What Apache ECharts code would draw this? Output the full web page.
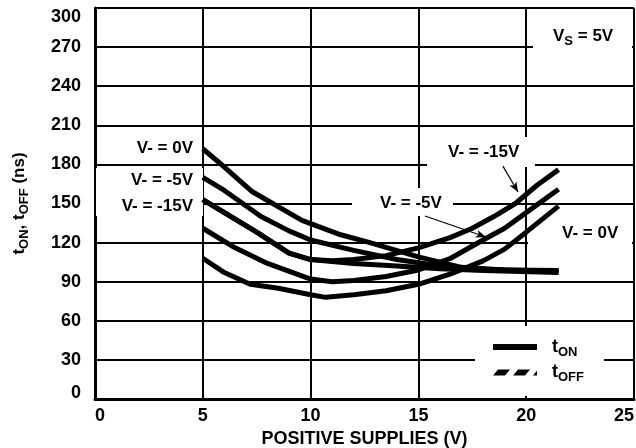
<!DOCTYPE html>
<html>
<head>
<meta charset="utf-8">
<script src="https://cdn.jsdelivr.net/npm/echarts@6/dist/echarts.min.js"></script>
<style>
  html, body { margin: 0; padding: 0; background: #fff; }
  #chart { width: 636px; height: 448px; }
</style>
</head>
<body>
<div id="chart"></div>
<script>
  // positive supply (V) vs switching time (ns)
  const onNeg0X = [5, 6, 7.3, 9.6, 11.4, 12.75, 15, 17, 19, 21.5]
  const onNeg0Y = [192, 178, 159, 137, 126, 120, 109, 101, 99, 98.5]
  const onNeg5X = [5, 6, 7.7, 9, 10, 12, 14, 16, 18, 21.5]
  const onNeg5Y = [170, 160, 140, 129, 122, 114, 107, 102, 99.5, 98]
  const onNeg15X = [5, 6, 7.5, 9, 10, 12, 14, 16, 18, 21.5]
  const onNeg15Y = [153, 143, 128, 112, 107, 104, 102, 100, 98.5, 97]

  const offNeg15X = [5, 6, 7.5, 9, 10, 11, 12, 13.5, 15, 16.5, 17.5, 18.5, 19.5, 20.5, 21.5]
  const offNeg15Y = [153, 143, 128, 112, 107, 106, 107, 110, 116, 124, 131, 140, 150, 164, 176]
  const offNeg5X = [5, 6.5, 8, 10, 11, 12, 13.5, 15, 16.5, 18, 19, 20, 21.5]
  const offNeg5Y = [131, 116, 104, 92, 90, 91, 94, 99, 108, 122, 131, 143, 161]
  const offNeg0X = [5, 6, 7.2, 8.5, 10, 10.7, 12, 13.5, 15, 16.5, 18, 19, 20, 21.5]
  const offNeg0Y = [108, 97, 88, 85, 80, 78, 80, 83, 88, 96, 106, 115, 128, 148]

  const xTicks = [0, 25, 5]     // min, max, step
  const yTicks = [0, 300, 30]

  const FONT = 'Liberation Sans, Arial, Helvetica, sans-serif'
  const zip = (xs, ys) => xs.map((x, i) => [x, ys[i]])

  const txt = (size) => ({ fontFamily: FONT, fontWeight: 'bold', fontSize: size, color: '#000' })

  const lineBase = {
    type: 'line',
    symbol: 'none',
    smooth: false,
    z: 3,
    lineStyle: { color: '#000', width: 5 },
    itemStyle: { color: '#000' },
  }

  const makeLine = (name, xs, ys, extra) => Object.assign({}, lineBase, { name, data: zip(xs, ys) }, extra || {})

  const chart = echarts.init(document.getElementById('chart'))

  const whiteBox = (x, y, w, h) => ({
    type: 'rect',
    z: 1,
    silent: true,
    shape: { x, y, width: w, height: h },
    style: { fill: '#fff' },
  })

  const label = (x, y, text, align) => ({
    type: 'text',
    z: 1,
    silent: true,
    x,
    y,
    style: {
      text,
      align: align || 'left',
      verticalAlign: 'middle',
      fill: '#000',
      font: 'bold 17px ' + FONT,
      rich: {
        a: { fontFamily: FONT, fontWeight: 'bold', fontSize: 17, fill: '#000' },
        s: { fontFamily: FONT, fontWeight: 'bold', fontSize: 13, fill: '#000', padding: [10, 0, 0, 0] },
      },
    },
  })

  const option = {
    animation: false,
    backgroundColor: '#fff',
    grid: { left: 95, right: 2, top: 8, bottom: 49, containLabel: false, outerBoundsMode: 'none' },
    xAxis: {
      type: 'value',
      min: xTicks[0],
      max: xTicks[1],
      interval: xTicks[2],
      axisLine: { show: true, lineStyle: { color: '#000', width: 3 } },
      axisTick: { show: false },
      splitLine: { show: true, lineStyle: { color: '#000', width: 2 } },
      axisLabel: Object.assign(txt(18), { margin: 8, alignMinLabel: 'left', alignMaxLabel: 'right' }),
      name: 'POSITIVE SUPPLIES (V)',
      nameLocation: 'middle',
      nameGap: 31,
      nameTextStyle: txt(18),
    },
    yAxis: {
      type: 'value',
      min: yTicks[0],
      max: yTicks[1],
      interval: yTicks[2],
      axisLine: { show: true, lineStyle: { color: '#000', width: 3 } },
      axisTick: { show: false },
      splitLine: { show: true, lineStyle: { color: '#000', width: 2 } },
      axisLabel: Object.assign(txt(18), {
        margin: 14,
        formatter: (v) => (v === 300 ? '{hi|300}' : v === 0 ? '{lo|0}' : String(v)),
        rich: {
          hi: Object.assign(txt(18), { padding: [18, 0, 0, 0] }),
          lo: Object.assign(txt(18), { padding: [0, 0, 12, 0] }),
        },
      }),
      name: '{t|t}{s|ON}{t|, t}{s|OFF}{t| (ns)}',
      nameLocation: 'middle',
      nameRotate: 90,
      nameGap: 64,
      nameTextStyle: {
        rich: {
          t: txt(17),
          s: Object.assign(txt(13), { padding: [10, 0, 0, 0] }),
        },
      },
    },
    legend: {
      orient: 'vertical',
      left: 475,
      top: 326,
      width: 151,
      padding: [12, 20, 12, 18],
      backgroundColor: '#fff',
      itemWidth: 44,
      itemHeight: 6,
      itemGap: 5,
      selectedMode: false,
      data: [
        { name: 't_on', icon: 'rect' },
        { name: 't_off', icon: 'path://M0,6L5,0L17,0L12,6Z M20,6L25,0L37,0L32,6Z M40,6L44,1L44,6Z' },
      ],
      formatter: (n) => (n === 't_on' ? '{t|t}{s|ON}' : '{t|t}{s|OFF}'),
      textStyle: {
        padding: [0, 0, 0, 10],
        rich: {
          t: txt(18),
          s: Object.assign(txt(13), { padding: [10, 0, 0, 0] }),
        },
      },
    },
    graphic: [
      whiteBox(96, 168, 107, 48),
      whiteBox(533, 20, 99, 32),
      whiteBox(427, 137, 108, 30),
      whiteBox(352, 188, 101, 28),
      whiteBox(528, 216, 104, 38),
      label(193, 148, 'V- = 0V', 'right'),
      label(193, 180, 'V- = -5V', 'right'),
      label(193, 206, 'V- = -15V', 'right'),
      label(553, 36, '{a|V}{s|S}{a| = 5V}'),
      label(448, 152, 'V- = -15V'),
      label(380, 203, 'V- = -5V'),
      label(562, 233, 'V- = 0V'),
    ],
    series: [
      makeLine('t_on', onNeg0X, onNeg0Y),
      makeLine('t_on', onNeg5X, onNeg5Y),
      makeLine('t_on', onNeg15X, onNeg15Y),
      makeLine('t_off', offNeg15X, offNeg15Y, {
        markLine: {
          silent: true,
          symbol: ['none', 'arrow'],
          symbolSize: [6, 10],
          label: { show: false },
          lineStyle: { color: '#000', width: 1.2, type: 'solid' },
          data: [
            [{ coord: [18.92, 178.7] }, { coord: [19.62, 158.8] }],
            [{ coord: [15.3, 140.4] }, { coord: [18.13, 124.3] }],
          ],
        },
      }),
      makeLine('t_off', offNeg5X, offNeg5Y),
      makeLine('t_off', offNeg0X, offNeg0Y),
    ],
  }

  chart.setOption(option)
</script>
</body>
</html>
